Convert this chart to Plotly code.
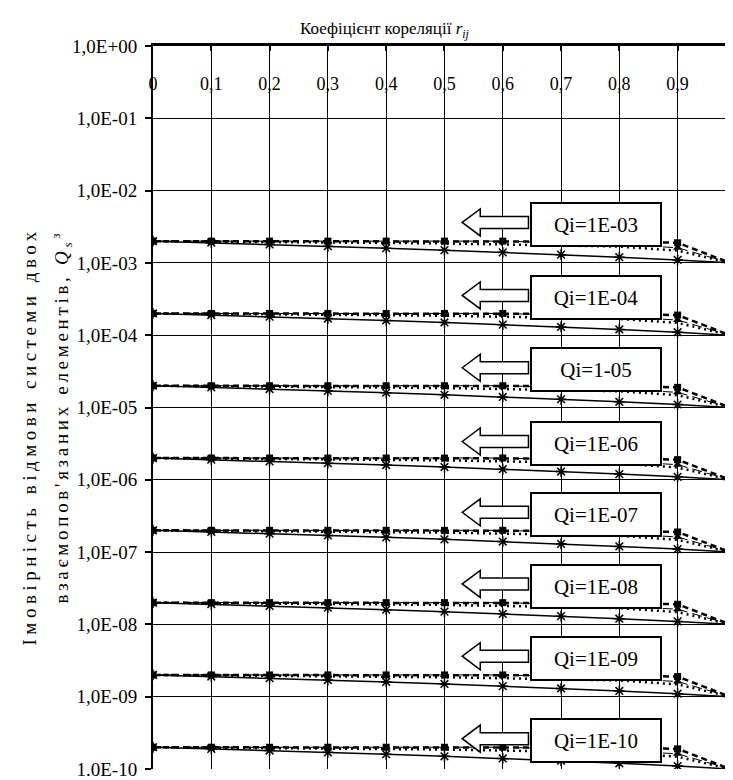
import numpy as np
import plotly.graph_objects as go

# correlation coefficient values (x)
r_vals = [0, 0.1, 0.2, 0.3, 0.4, 0.5, 0.6, 0.7, 0.8, 0.9, 0.99]
x_ticks = [0, 0.1, 0.2, 0.3, 0.4, 0.5, 0.6, 0.7, 0.8, 0.9]
x_ticktext = ["0", "0,1", "0,2", "0,3", "0,4", "0,5", "0,6", "0,7", "0,8", "0,9"]

# element failure probabilities
qi_levels = [1e-3, 1e-4, 1e-5, 1e-6, 1e-7, 1e-8, 1e-9, 1e-10]
qi_labels = ["Qi=1E-03", "Qi=1E-04", "Qi=1-05", "Qi=1E-06",
             "Qi=1E-07", "Qi=1E-08", "Qi=1E-09", "Qi=1E-10"]

# system failure probability, as multiples of Qi
solid_mult = [2.0, 1.9, 1.8, 1.7, 1.6, 1.5, 1.4, 1.3, 1.2, 1.1, 1.0]
bold_dash_mult = [2.0, 2.0, 2.0, 2.0, 2.0, 2.0, 2.0, 2.0, 1.97, 1.9, 1.0]
thin_dash_mult = [2.0, 2.0, 2.0, 2.0, 2.0, 2.0, 2.0, 1.9, 1.8, 1.62, 1.0]
dot_mult = [2.0, 1.98, 1.95, 1.93, 1.9, 1.86, 1.8, 1.74, 1.68, 1.48, 1.0]

y_tickvals = [10.0 ** (-k) for k in range(0, 11)]
y_ticktext = ["1,0E+00", "1,0E-01", "1,0E-02", "1,0E-03", "1,0E-04", "1,0E-05",
              "1,0E-06", "1,0E-07", "1,0E-08", "1,0E-09", "1.0E-10"]

FONT = "Liberation Serif"
XMAX = 0.995

fig = go.Figure()
for q in qi_levels:
    fig.add_trace(go.Scatter(
        x=r_vals, y=[m * q for m in bold_dash_mult], mode="lines+markers",
        line=dict(color="black", width=2.5, dash="6px,4px"),
        marker=dict(symbol="square", size=7, color="black"),
        showlegend=False, hoverinfo="skip"))
    fig.add_trace(go.Scatter(
        x=r_vals, y=[m * q for m in dot_mult], mode="lines",
        line=dict(color="black", width=2.5, dash="2px,4px"),
        showlegend=False, hoverinfo="skip"))
    fig.add_trace(go.Scatter(
        x=r_vals, y=[m * q for m in thin_dash_mult], mode="lines+markers",
        line=dict(color="black", width=1, dash="10px,5px"),
        marker=dict(symbol="triangle-up", size=8, color="black"),
        showlegend=False, hoverinfo="skip"))
    fig.add_trace(go.Scatter(
        x=r_vals, y=[m * q for m in solid_mult], mode="lines+markers",
        line=dict(color="black", width=1.5),
        marker=dict(symbol="asterisk-open", size=9, line=dict(color="black", width=1.5)),
        showlegend=False, hoverinfo="skip"))

# boxes with labels and open left arrows
box_offsets = [0.53, 0.52, 0.52, 0.5, 0.52, 0.53, 0.53, 0.39]
shapes = []
annotations = []
for q, lab, off in zip(qi_levels, qi_labels, box_offsets):
    lq = np.log10(q)
    annotations.append(dict(
        x=0.7605, y=lq + off, xref="x", yref="y", text=lab, showarrow=False,
        font=dict(family=FONT, size=21, color="black"),
        bgcolor="white", bordercolor="black", borderwidth=2, borderpad=0,
        width=128, height=41))
    c = lq + off + 0.03
    tip, hb, tail = 0.5305, 0.5614, 0.6441
    hh, sh = 0.187, 0.083
    def P(xd, yl):
        return f"{xd / XMAX:.5f},{(yl + 10) / 10:.5f}"
    path = (f"M {P(tip, c)} L {P(hb, c + hh)} L {P(hb, c + sh)} L {P(tail, c + sh)} "
            f"L {P(tail, c - sh)} L {P(hb, c - sh)} L {P(hb, c - hh)} Z")
    shapes.append(dict(type="path", path=path, xref="paper", yref="paper",
                       fillcolor="white", line=dict(color="black", width=1.5),
                       layer="above"))

annotations.append(dict(
    x=0.40, y=1.040, xref="paper", yref="paper", showarrow=False,
    text="Коефіцієнт кореляції <i>r</i><sub><i>ij</i></sub>",
    font=dict(family=FONT, size=17, color="black")))
annotations.append(dict(
    x=-0.2328, y=0.4606, xref="paper", yref="paper", showarrow=False, textangle=-90,
    text="<span style=\"letter-spacing:4.5px\">Імовірність відмови системи двох</span>",
    font=dict(family=FONT, size=19, color="black")))
annotations.append(dict(
    x=-0.1845, y=0.4882, xref="paper", yref="paper", showarrow=False, textangle=-90,
    text="<span style=\"letter-spacing:3.7px\">взаємопов'язаних елементів, "
         "<i>Q</i><sub><i>s</i></sub><sup>з</sup></span>",
    font=dict(family=FONT, size=19, color="black")))

# the page adds an 8px body margin, so the figure is 8px smaller each way
fig.update_layout(
    width=725, height=772,
    margin=dict(l=145, r=0, t=38, b=11, autoexpand=False),
    paper_bgcolor="white", plot_bgcolor="white",
    font=dict(family=FONT, size=16, color="black"),
    shapes=shapes, annotations=annotations, showlegend=False)

fig.update_xaxes(
    range=[0, XMAX], side="top", tickvals=x_ticks, ticktext=x_ticktext,
    showgrid=True, gridcolor="black", gridwidth=1, zeroline=False,
    showline=True, linecolor="black", linewidth=2.5, automargin=False,
    ticks="inside", ticklen=5, tickwidth=2, tickcolor="black",
    ticklabelposition="inside", ticklabelstandoff=27, ticklabeloverflow="allow",
    tickfont=dict(family=FONT, size=18, color="black"))
fig.update_yaxes(
    type="log", range=[-10, 0], tickvals=y_tickvals, ticktext=y_ticktext,
    showgrid=True, gridcolor="black", gridwidth=1, zeroline=False,
    showline=True, linecolor="black", linewidth=2, automargin=False,
    ticks="outside", ticklen=6, tickwidth=1.5, tickcolor="black",
    ticklabelstandoff=4, ticklabeloverflow="allow",
    tickfont=dict(family=FONT, size=19, color="black"))

fig.write_html("out.html")
